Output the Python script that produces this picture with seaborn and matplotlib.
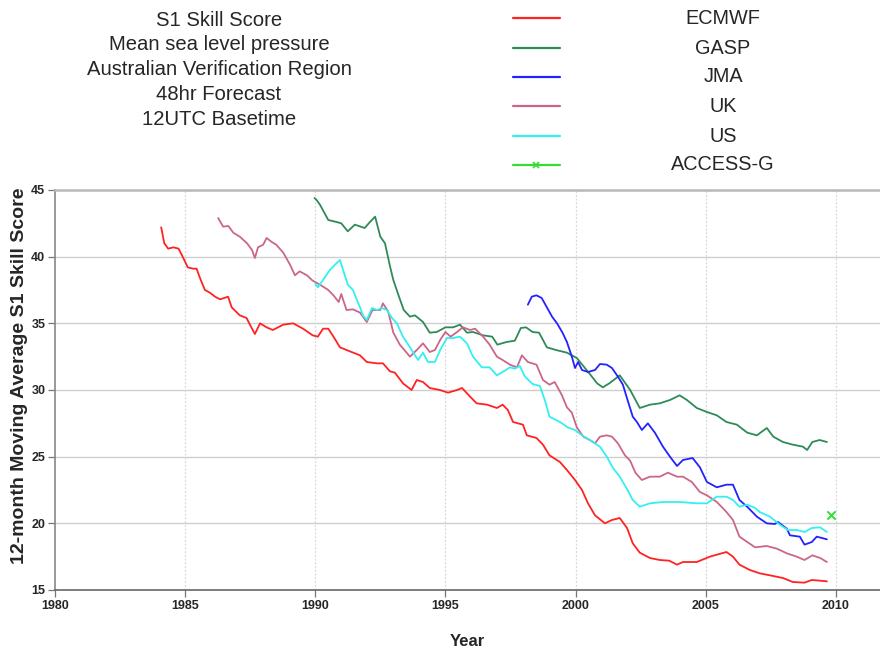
import matplotlib
matplotlib.use("Agg")
import matplotlib.pyplot as plt
from matplotlib.lines import Line2D
import seaborn as sns
import pandas as pd

# ---------------- data ----------------
ecmwf_year = [1984.08, 1984.2, 1984.35, 1984.55, 1984.75, 1984.93, 1985.1, 1985.3, 1985.44, 1985.57,
              1985.76, 1985.95, 1986.15, 1986.34, 1986.5, 1986.65, 1986.79, 1987.1, 1987.36, 1987.49,
              1987.68, 1987.88, 1988.13, 1988.37, 1988.77, 1989.15, 1989.53, 1989.9, 1990.1, 1990.3,
              1990.5, 1990.7, 1990.95, 1991.33, 1991.72, 1991.98, 1992.37, 1992.6, 1992.87, 1993.06,
              1993.37, 1993.7, 1993.9, 1994.14, 1994.4, 1994.79, 1995.1, 1995.45, 1995.64, 1995.95,
              1996.2, 1996.6, 1996.98, 1997.2, 1997.4, 1997.6, 1997.98, 1998.13, 1998.5, 1998.75,
              1999.0, 1999.4, 1999.67, 1999.98, 2000.25, 2000.48, 2000.75, 2001.13, 2001.4, 2001.7,
              2001.98, 2002.2, 2002.47, 2002.86, 2003.24, 2003.6, 2003.9, 2004.13, 2004.66, 2005.16,
              2005.8, 2006.05, 2006.3, 2006.7, 2007.08, 2007.47, 2007.97, 2008.35, 2008.8, 2009.08,
              2009.4, 2009.66]
ecmwf_val = [42.2, 41.0, 40.6, 40.7, 40.6, 39.9, 39.2, 39.1, 39.1, 38.4,
             37.5, 37.3, 37.0, 36.8, 36.9, 37.0, 36.2, 35.6, 35.4, 34.9,
             34.2, 35.0, 34.7, 34.5, 34.9, 35.0, 34.6, 34.1, 34.0, 34.6,
             34.6, 34.0, 33.2, 32.9, 32.6, 32.1, 32.0, 32.0, 31.4, 31.3,
             30.5, 30.0, 30.75, 30.6, 30.15, 30.0, 29.8, 30.0, 30.15, 29.5,
             29.0, 28.9, 28.65, 28.9, 28.5, 27.6, 27.4, 26.6, 26.4, 25.9,
             25.1, 24.6, 24.0, 23.25, 22.5, 21.5, 20.6, 20.0, 20.25, 20.4,
             19.65, 18.5, 17.8, 17.4, 17.25, 17.2, 16.9, 17.1, 17.1, 17.5,
             17.85, 17.5, 16.9, 16.5, 16.25, 16.1, 15.9, 15.6, 15.55, 15.75,
             15.7, 15.65]

gasp_year = [1989.97, 1990.05, 1990.18, 1990.5, 1990.82, 1991.0, 1991.25, 1991.52, 1991.9, 1992.1,
             1992.3, 1992.5, 1992.68, 1992.87, 1993.0, 1993.2, 1993.4, 1993.64, 1993.83, 1994.14,
             1994.4, 1994.67, 1995.0, 1995.3, 1995.56, 1995.83, 1996.06, 1996.45, 1996.8, 1997.0,
             1997.35, 1997.67, 1997.9, 1998.1, 1998.35, 1998.6, 1998.9, 1999.25, 1999.67, 2000.05,
             2000.3, 2000.55, 2000.83, 2001.05, 2001.3, 2001.7, 2002.1, 2002.47, 2002.86, 2003.24,
             2003.63, 2004.0, 2004.28, 2004.66, 2005.05, 2005.43, 2005.8, 2006.2, 2006.6, 2006.97,
             2007.35, 2007.6, 2007.97, 2008.35, 2008.74, 2008.9, 2009.1, 2009.38, 2009.66]
gasp_val = [44.4, 44.25, 43.9, 42.75, 42.6, 42.5, 41.9, 42.4, 42.15, 42.6,
            43.0, 41.5, 41.0, 39.3, 38.25, 37.1, 36.0, 35.5, 35.6, 35.1,
            34.3, 34.35, 34.7, 34.7, 34.9, 34.3, 34.35, 34.1, 34.0, 33.4,
            33.6, 33.7, 34.65, 34.7, 34.35, 34.3, 33.2, 33.0, 32.8, 32.4,
            31.8, 31.2, 30.5, 30.2, 30.5, 31.1, 30.0, 28.65, 28.9, 29.0,
            29.25, 29.6, 29.25, 28.65, 28.35, 28.1, 27.6, 27.4, 26.8, 26.6,
            27.15, 26.5, 26.1, 25.9, 25.75, 25.5, 26.1, 26.25, 26.1]

jma_year = [1998.17, 1998.32, 1998.5, 1998.7, 1998.9, 1999.1, 1999.29, 1999.5, 1999.67, 1999.86,
            1999.98, 2000.1, 2000.25, 2000.48, 2000.75, 2000.94, 2001.2, 2001.4, 2001.63, 2001.82,
            2002.0, 2002.2, 2002.36, 2002.55, 2002.78, 2003.05, 2003.36, 2003.63, 2003.9, 2004.13,
            2004.5, 2004.78, 2005.05, 2005.43, 2005.8, 2006.05, 2006.3, 2006.62, 2006.97, 2007.35,
            2007.66, 2007.78, 2008.12, 2008.24, 2008.62, 2008.8, 2009.08, 2009.27, 2009.47, 2009.66]
jma_val = [36.4, 37.0, 37.1, 36.9, 36.2, 35.5, 35.0, 34.3, 33.6, 32.5,
           31.65, 32.1, 31.5, 31.35, 31.5, 31.95, 31.9, 31.65, 31.0, 30.4,
           29.25, 28.0, 27.6, 27.0, 27.5, 26.8, 25.75, 25.0, 24.3, 24.75,
           24.9, 24.2, 23.1, 22.7, 22.9, 22.9, 21.75, 21.2, 20.5, 20.0,
           19.95, 20.1, 19.6, 19.1, 19.0, 18.4, 18.6, 19.0, 18.9, 18.8]

uk_year = [1986.27, 1986.46, 1986.66, 1986.85, 1987.1, 1987.38, 1987.57, 1987.68, 1987.8, 1988.0,
           1988.13, 1988.33, 1988.5, 1988.77, 1989.03, 1989.22, 1989.4, 1989.68, 1989.9, 1990.18,
           1990.5, 1990.7, 1990.9, 1991.0, 1991.2, 1991.45, 1991.72, 1991.98, 1992.2, 1992.5,
           1992.6, 1992.8, 1993.0, 1993.25, 1993.64, 1993.9, 1994.14, 1994.4, 1994.6, 1994.8,
           1995.0, 1995.2, 1995.45, 1995.67, 1995.95, 1996.14, 1996.45, 1996.7, 1996.98, 1997.2,
           1997.48, 1997.75, 1997.94, 1998.17, 1998.5, 1998.75, 1999.0, 1999.2, 1999.48, 1999.67,
           1999.86, 2000.05, 2000.3, 2000.55, 2000.75, 2000.94, 2001.2, 2001.4, 2001.63, 2001.9,
           2002.1, 2002.3, 2002.55, 2002.86, 2003.24, 2003.55, 2003.9, 2004.13, 2004.47, 2004.78,
           2005.05, 2005.43, 2005.8, 2006.05, 2006.3, 2006.6, 2006.9, 2007.35, 2007.74, 2008.12,
           2008.5, 2008.8, 2009.1, 2009.4, 2009.66]
uk_val = [42.9, 42.25, 42.3, 41.8, 41.5, 41.0, 40.5, 39.9, 40.7, 40.9,
          41.4, 41.1, 40.9, 40.3, 39.4, 38.6, 38.9, 38.6, 38.2, 37.9,
          37.5, 37.1, 36.6, 37.2, 36.0, 36.05, 35.8, 35.1, 36.0, 36.0,
          36.5, 35.9, 34.3, 33.4, 32.5, 33.0, 33.5, 32.85, 33.0, 33.75,
          34.35, 34.0, 34.35, 34.7, 34.5, 34.6, 34.0, 33.4, 32.5, 32.25,
          31.9, 31.7, 32.6, 32.1, 31.9, 30.75, 30.4, 30.6, 29.6, 28.7,
          28.3, 27.2, 26.5, 26.25, 26.0, 26.5, 26.6, 26.5, 26.0, 25.1,
          24.7, 23.8, 23.25, 23.5, 23.5, 23.8, 23.5, 23.5, 23.1, 22.35,
          22.1, 21.6, 20.85, 20.25, 19.0, 18.6, 18.2, 18.3, 18.1, 17.75,
          17.5, 17.25, 17.6, 17.4, 17.1]

us_year = [1990.0, 1990.1, 1990.3, 1990.56, 1990.76, 1990.95, 1991.07, 1991.25, 1991.45, 1991.6,
           1991.72, 1991.83, 1991.98, 1992.18, 1992.37, 1992.56, 1992.75, 1992.95, 1993.14, 1993.37,
           1993.64, 1993.95, 1994.14, 1994.33, 1994.6, 1994.8, 1995.06, 1995.3, 1995.56, 1995.83,
           1996.06, 1996.4, 1996.7, 1996.98, 1997.2, 1997.48, 1997.67, 1997.86, 1998.06, 1998.35,
           1998.63, 1998.82, 1999.0, 1999.4, 1999.7, 1999.98, 2000.25, 2000.55, 2000.94, 2001.2,
           2001.44, 2001.7, 2002.0, 2002.2, 2002.47, 2002.86, 2003.36, 2004.0, 2004.66, 2005.05,
           2005.43, 2005.8, 2006.05, 2006.3, 2006.6, 2006.9, 2007.08, 2007.47, 2007.85, 2008.16,
           2008.5, 2008.8, 2009.08, 2009.4, 2009.66]
us_val = [38.0, 37.7, 38.25, 39.0, 39.4, 39.75, 39.0, 37.9, 37.5, 36.75,
          36.2, 35.6, 35.25, 36.15, 36.0, 36.15, 36.0, 35.4, 35.0, 34.0,
          33.2, 32.25, 32.8, 32.1, 32.1, 33.0, 33.9, 33.9, 34.0, 33.5,
          32.5, 31.7, 31.7, 31.1, 31.35, 31.7, 31.6, 31.8, 31.0, 30.45,
          30.3, 29.25, 28.0, 27.6, 27.2, 27.0, 26.6, 26.25, 25.75, 25.0,
          24.15, 23.5, 22.5, 21.75, 21.25, 21.5, 21.6, 21.6, 21.5, 21.5,
          22.0, 22.0, 21.75, 21.25, 21.4, 21.15, 20.85, 20.5, 19.9, 19.5,
          19.5, 19.35, 19.65, 19.7, 19.35]

access_year = [2009.82]
access_val = [20.6]

models = ["ECMWF", "GASP", "JMA", "UK", "US", "ACCESS-G"]
colors = {"ECMWF": "#ff2222", "GASP": "#2e8b57", "JMA": "#2222ff",
          "UK": "#cc6688", "US": "#33f0f0", "ACCESS-G": "#33dd33"}
title_lines = ["S1 Skill Score", "Mean sea level pressure", "Australian Verification Region",
               "48hr Forecast", "12UTC Basetime"]
x_ticks = [1980, 1985, 1990, 1995, 2000, 2005, 2010]
y_ticks = [15, 20, 25, 30, 35, 40, 45]

# ---------------- frame ----------------
frames = []
for name, yr, vl in [("ECMWF", ecmwf_year, ecmwf_val), ("GASP", gasp_year, gasp_val),
                     ("JMA", jma_year, jma_val), ("UK", uk_year, uk_val),
                     ("US", us_year, us_val)]:
    frames.append(pd.DataFrame({"Year": yr, "Score": vl, "Model": name}))
df = pd.concat(frames, ignore_index=True)
df_access = pd.DataFrame({"Year": access_year, "Score": access_val, "Model": "ACCESS-G"})

sns.set_theme(style="white")
plt.rcParams["font.family"] = ["Liberation Sans", "DejaVu Sans"]

fig = plt.figure(figsize=(8.8, 6.51), dpi=100)
ax = fig.add_axes([55 / 880, 61 / 651, 825 / 880, 400 / 651])

# grid
for yv in y_ticks[1:-1]:
    ax.axhline(yv, color="#cfcfcf", lw=1.0, zorder=0)
for xv in x_ticks[1:]:
    ax.axvline(xv, color="#d8d8d8", lw=0.9, ls=(0, (1.5, 1.5)), zorder=0)

sns.lineplot(data=df, x="Year", y="Score", hue="Model",
             palette={m: colors[m] for m in models[:-1]},
             hue_order=models[:-1], estimator=None, sort=False,
             linewidth=1.3, legend=False, ax=ax)
sns.scatterplot(data=df_access, x="Year", y="Score", color=colors["ACCESS-G"],
                marker="x", s=35, linewidth=1.4, legend=False, ax=ax, zorder=5)

ax.set_xlim(1980, 2011.7)
ax.set_ylim(15, 45)
ax.set_xticks(x_ticks)
ax.set_yticks(y_ticks)
ax.set_xticklabels([str(t) for t in x_ticks], fontsize=9, fontweight="bold")
ax.set_yticklabels([str(t) for t in y_ticks], fontsize=9, fontweight="bold")
ax.tick_params(axis="both", direction="out", length=5, width=0.9, color="#777777",
               pad=2, bottom=True, left=True)
ax.set_xlabel("Year", fontsize=12, fontweight="bold", labelpad=16)
ax.set_ylabel("12-month Moving Average S1 Skill Score", fontsize=14,
              fontweight="bold")
ax.yaxis.set_label_coords(-0.033, 0.535)

ax.spines["right"].set_visible(False)
ax.spines["top"].set_color("#b8b8b8")
ax.spines["top"].set_linewidth(1.8)
ax.spines["left"].set_color("#888888")
ax.spines["left"].set_linewidth(1.2)
ax.spines["bottom"].set_color("#666666")
ax.spines["bottom"].set_linewidth(1.2)

# title block
for i, line in enumerate(title_lines):
    fig.text(219 / 880, 1 - (20 + 24.8 * i) / 651, line, ha="center", va="center",
             fontsize=14.6)

# legend block
leg_y = [18, 48, 77, 106, 136, 165]
for m, yp in zip(models, leg_y):
    yf = 1 - yp / 651
    fig.add_artist(Line2D([513 / 880, 560 / 880], [yf, yf], transform=fig.transFigure,
                          color=colors[m], lw=1.6))
    if m == "ACCESS-G":
        fig.add_artist(Line2D([536 / 880], [yf], transform=fig.transFigure,
                              color=colors[m], marker="x", ms=5, mew=1.2, lw=0))
    fig.text(723 / 880, yf, m, ha="center", va="center", fontsize=14.3)

fig.savefig("out.png", dpi=100)
